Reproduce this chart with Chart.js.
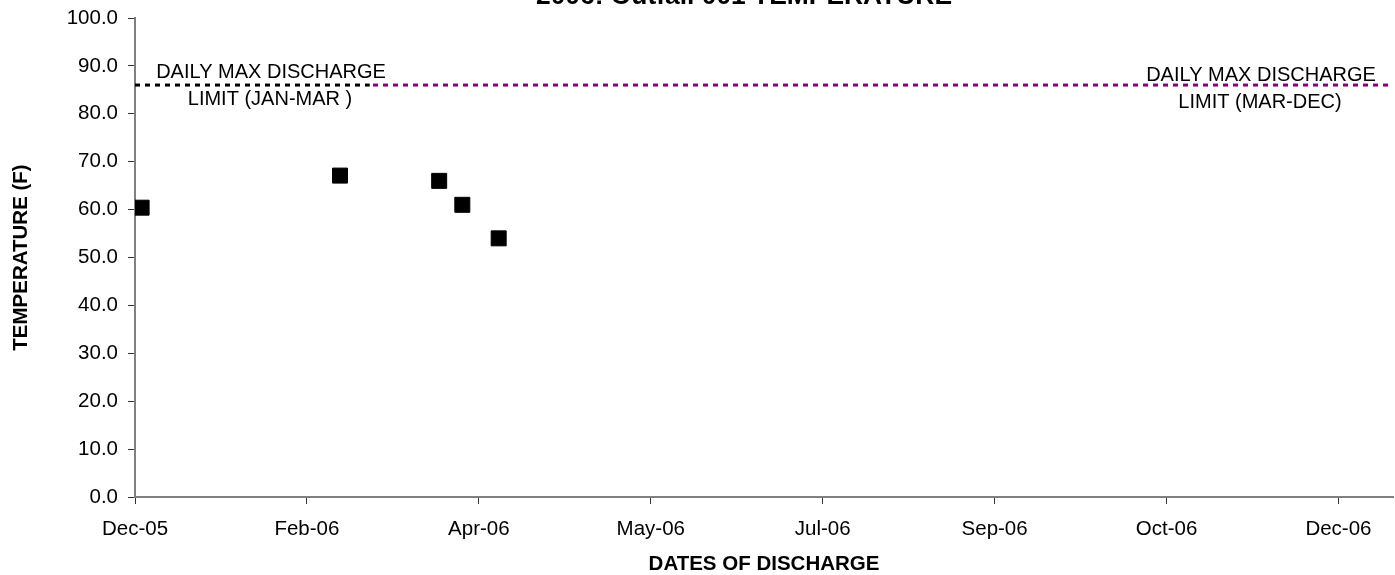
<!DOCTYPE html>
<html>
<head>
<meta charset="utf-8">
<script src="https://cdn.jsdelivr.net/npm/chart.js@4.4.1/dist/chart.umd.min.js"></script>
<style>
  html, body { margin: 0; padding: 0; background: #ffffff; overflow: hidden; }
  canvas { display: block; }
</style>
</head>
<body>
<canvas id="chart" width="1395" height="575" style="width:1395px;height:575px"></canvas>
<script>
// Discharge sample dates and measured temperatures (F)
const sampleDates = ['2005-12-22', '2006-02-20', '2006-03-22', '2006-03-29', '2006-04-09'];
const temperatures = [60.4, 67.1, 66.0, 61.0, 54.0];

// Daily maximum discharge limits
const limitJanMarDates = ['2005-12-20', '2006-03-01'];
const limitJanMarValues = [86, 86];
const limitMarDecDates = ['2006-03-02', '2007-01-04'];
const limitMarDecValues = [86, 86];

// Date axis
const xAxisStart = '2005-12-20';
const xAxisEnd = '2007-01-04';
const xTickDates = ['2005-12-20', '2006-02-10', '2006-04-03', '2006-05-25',
                    '2006-07-16', '2006-09-06', '2006-10-28', '2006-12-19'];
const xTickLabels = ['Dec-05', 'Feb-06', 'Apr-06', 'May-06', 'Jul-06', 'Sep-06', 'Oct-06', 'Dec-06'];

const chartTitle = '2006: Outfall 001 TEMPERATURE';
const yTitle = 'TEMPERATURE (F)';
const xTitle = 'DATES OF DISCHARGE';
const limitLabelLeft = ['DAILY MAX DISCHARGE', 'LIMIT (JAN-MAR )'];
const limitLabelRight = ['DAILY MAX DISCHARGE', 'LIMIT (MAR-DEC)'];

const FONT = '"Liberation Sans", Arial, sans-serif';

// convert an ISO date to a day number
function dayNum(s) {
  const [y, m, d] = s.split('-').map(Number);
  return Date.UTC(y, m - 1, d) / 86400000;
}
const toPoints = (dates, vals) => dates.map((d, i) => ({ x: dayNum(d), y: vals[i] }));

const xTickValues = xTickDates.map(dayNum);

// Title (sits mostly above the canvas) and the limit captions
const textPlugin = {
  id: 'chartText',
  afterDraw(chart) {
    const ctx = chart.ctx;
    const area = chart.chartArea;
    const yScale = chart.scales.y;
    const lineY = yScale.getPixelForValue(limitJanMarValues[0]);
    ctx.save();
    ctx.fillStyle = '#000';
    ctx.textAlign = 'center';
    ctx.textBaseline = 'alphabetic';
    ctx.font = 'bold 26.4px ' + FONT;
    ctx.fillText(chartTitle, 744, 4);

    ctx.font = '20px ' + FONT;
    const leftX = area.left + 136;
    ctx.fillText(limitLabelLeft[0], leftX, lineY - 7);
    ctx.fillText(limitLabelLeft[1], leftX - 1, lineY + 19.7);
    const rightX = area.right - 132;
    ctx.fillText(limitLabelRight[0], rightX, lineY - 3.6);
    ctx.fillText(limitLabelRight[1], rightX - 1, lineY + 23);
    ctx.restore();
  }
};

new Chart(document.getElementById('chart'), {
  type: 'scatter',
  data: {
    datasets: [
      {
        label: 'Temperature',
        data: toPoints(sampleDates, temperatures),
        pointStyle: 'rect',
        pointRadius: 10.6,
        pointHoverRadius: 10.6,
        backgroundColor: '#000000',
        borderColor: '#000000',
        borderWidth: 1,
        showLine: false,
        order: 0
      },
      {
        label: 'Limit Jan-Mar',
        data: toPoints(limitJanMarDates, limitJanMarValues),
        showLine: true,
        borderColor: '#000000',
        borderWidth: 3,
        borderDash: [5, 5],
        pointRadius: 0,
        order: 1
      },
      {
        label: 'Limit Mar-Dec',
        data: toPoints(limitMarDecDates, limitMarDecValues),
        showLine: true,
        borderColor: '#800080',
        borderWidth: 3,
        borderDash: [5, 5],
        pointRadius: 0,
        order: 1
      }
    ]
  },
  options: {
    responsive: false,
    animation: false,
    devicePixelRatio: 1,
    layout: { autoPadding: false, padding: { top: 18, right: 2, left: 0, bottom: 0 } },
    plugins: {
      legend: { display: false },
      tooltip: { enabled: false },
      title: { display: false }
    },
    scales: {
      x: {
        type: 'linear',
        min: dayNum(xAxisStart),
        max: dayNum(xAxisEnd) + 0.5,
        afterBuildTicks(scale) {
          scale.ticks = xTickValues.map(v => ({ value: v }));
        },
        afterFit(scale) {
          scale.height = 78;
          scale.paddingLeft = 0;
          scale.paddingRight = 0;
        },
        ticks: {
          autoSkip: false,
          maxRotation: 0,
          padding: 13,
          color: '#000',
          font: { family: FONT, size: 20.5 },
          callback(value) {
            const i = xTickValues.indexOf(value);
            return i >= 0 ? xTickLabels[i] : '';
          }
        },
        grid: {
          display: true,
          drawOnChartArea: false,
          drawTicks: true,
          tickLength: 7,
          color: '#333333',
          lineWidth: 1
        },
        border: { display: true, color: '#808080', width: 2 },
        title: {
          display: true,
          text: xTitle,
          color: '#000',
          font: { family: FONT, size: 20.5, weight: 'bold', lineHeight: 1.0 },
          padding: { top: 0, bottom: 0 }
        }
      },
      y: {
        type: 'linear',
        min: 0,
        max: 100,
        afterFit(scale) {
          scale.width = 135;
          scale.paddingTop = 0;
          scale.paddingBottom = 0;
        },
        ticks: {
          stepSize: 10,
          padding: 10,
          color: '#000',
          font: { family: FONT, size: 20.5 },
          callback(value) { return Number(value).toFixed(1); }
        },
        grid: {
          display: true,
          drawOnChartArea: false,
          drawTicks: true,
          tickLength: 7,
          color: '#333333',
          lineWidth: 1
        },
        border: { display: true, color: '#808080', width: 2 },
        title: {
          display: true,
          text: yTitle,
          color: '#000',
          font: { family: FONT, size: 20.5, weight: 'bold' },
          padding: { top: 9, bottom: 0 }
        }
      }
    }
  },
  plugins: [textPlugin]
});
</script>
</body>
</html>
